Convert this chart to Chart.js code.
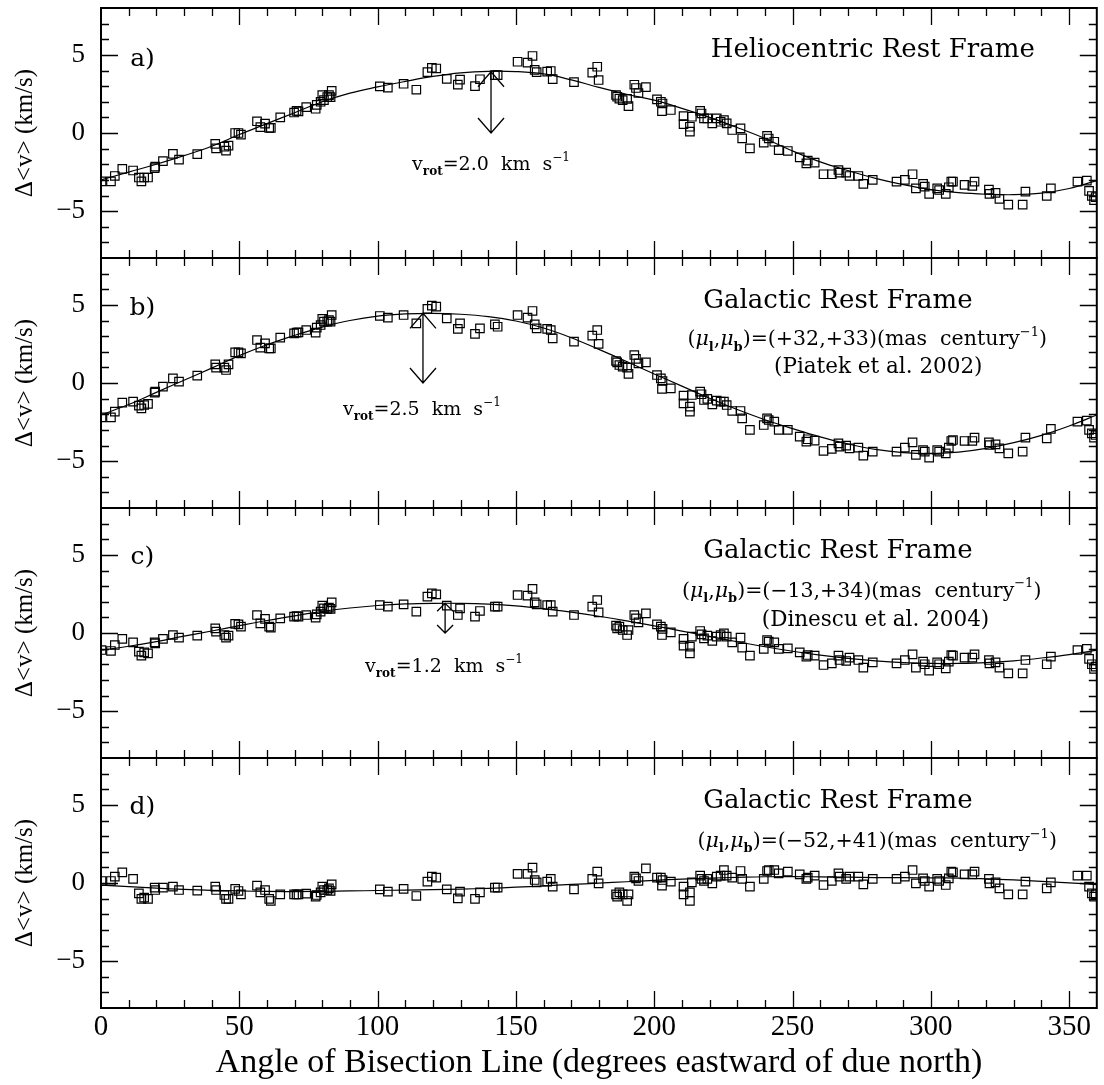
<!DOCTYPE html>
<html>
<head>
<meta charset="utf-8">
<script src="https://cdn.jsdelivr.net/npm/chart.js@4.4.1/dist/chart.umd.min.js"></script>
<style>
  body { margin: 0; background: #fff; }
  #wrap { position: relative; width: 1104px; height: 1085px; overflow: hidden; }
  #wrap canvas { position: absolute; left: 0; }
</style>
</head>
<body>
<div id="wrap">
  <canvas id="panel-a"></canvas>
  <canvas id="panel-b"></canvas>
  <canvas id="panel-c"></canvas>
  <canvas id="panel-d"></canvas>
</div>
<script>
// angle of the bisection line for every point (same for all four panels)
const ANGLE = [
  0.2, 3.6, 5, 7.7, 11.6, 13.7, 14.6, 15.6, 17, 19.4,
  19.6, 22.4, 26, 28.2, 34.8, 41.3, 41.6, 44.6, 45.2, 46.1,
  48.5, 49.7, 50.6, 56.4, 57.6, 59.3, 60.8, 61.4, 64.8, 69.8,
  70.7, 71.4, 74.2, 77.6, 78, 79.4, 80, 80.6, 81.8, 82.4,
  83, 83.4, 100.8, 103.7, 109.4, 114, 118, 119.6, 121.2, 125,
  129, 129.8, 135.2, 137, 142.4, 143.4, 150.6, 154.2, 156, 156.8,
  157.5, 161.3, 162.6, 163.3, 171, 177.6, 179.4, 179.9, 186.2, 186.6,
  187.4, 188.6, 190.2, 190.7, 192.8, 193.4, 194.3, 197, 201, 202.4,
  203, 202.8, 206, 210.6, 210.6, 212.9, 212.9, 213.6, 216.6, 217.1,
  218, 219.2, 221, 222.6, 224, 225.2, 226.2, 228.2, 231.2, 231.8,
  234.6, 239.6, 240.8, 241.4, 243.4, 245, 248.3, 252.6, 255, 255.5,
  258, 261.2, 264.2, 266.6, 267, 269.4, 270.6, 273.8, 275.6, 279,
  287.6, 290.6, 293.4, 294.6, 297.2, 297.8, 299.4, 302.3, 303, 305.4,
  306.5, 307.4, 308, 312.2, 315, 315.8, 321, 321.2, 323.4, 324.8,
  328, 333.2, 334.2, 341.9, 343.4, 353, 356.4, 357.2, 358.2, 359, 359.6
];

// a) heliocentric rest frame
const DV_HELIO = [
  -3.1, -3.1, -2.75, -2.3, -2.4, -2.85, -3.1, -2.85, -2.85, -2.25,
  -2.15, -1.8, -1.34, -1.7, -1.35, -0.7, -0.98, -0.88, -1.13, -0.81,
  0.0, 0.0, -0.1, 0.75, 0.38, 0.6, 0.33, 0.33, 1.0, 1.31,
  1.42, 1.38, 1.66, 1.55, 1.8, 2.0, 2.42, 2.1, 2.3, 2.42,
  2.3, 2.7, 2.98, 2.9, 3.15, 2.77, 3.9, 4.17, 4.13, 3.46,
  3.1, 3.42, 3.0, 3.44, 3.7, 3.7, 4.56, 4.5, 4.93, 4.04,
  3.9, 3.93, 3.97, 3.45, 3.26, 3.86, 4.24, 3.39, 2.43, 2.32,
  2.2, 2.1, 2.18, 1.72, 3.09, 2.88, 2.56, 2.94, 2.15, 2.0,
  1.89, 1.4, 1.47, 1.08, 0.57, 0.4, 0.09, 1.04, 1.42, 1.25,
  0.94, 0.94, 0.62, 0.94, 0.72, 0.83, 0.62, 0.19, 0.3, -0.34,
  -0.98, -0.62, -0.18, -0.35, -0.56, -1.1, -1.15, -1.56, -1.94, -1.77,
  -1.9, -2.64, -2.64, -2.37, -2.54, -2.54, -2.75, -2.75, -3.26, -3.0,
  -3.11, -3.0, -2.64, -3.54, -3.26, -3.43, -3.9, -3.54, -3.65, -3.9,
  -3.47, -3.11, -3.11, -3.32, -3.39, -3.11, -3.62, -3.9, -3.83, -4.22,
  -4.58, -4.58, -3.75, -4.03, -3.54, -3.11, -3.05, -3.7, -4.03, -4.3, -4.1
];

// b) galactic rest frame, Piatek et al. 2002 proper motion
const DV_PIATEK = [
  -2.2, -2.2, -1.83, -1.26, -1.19, -1.45, -1.62, -1.41, -1.34, -0.62,
  -0.55, -0.23, 0.3, 0.09, 0.47, 1.19, 0.98, 0.98, 0.83, 1.19,
  1.96, 1.96, 1.9, 2.75, 2.26, 2.54, 2.22, 2.22, 2.9, 3.18,
  3.22, 3.24, 3.39, 3.22, 3.54, 3.71, 4.1, 3.93, 3.93, 4.03,
  3.93, 4.35, 4.29, 4.18, 4.35, 3.82, 4.74, 4.95, 4.89, 4.14,
  3.46, 3.82, 3.14, 3.5, 3.75, 3.6, 4.35, 4.18, 4.61, 3.75,
  3.5, 3.46, 3.39, 2.86, 2.65, 3.03, 3.39, 2.5, 1.41, 1.32,
  1.15, 1.05, 0.98, 0.58, 1.79, 1.54, 1.26, 1.32, 0.51, 0.3,
  0.13, -0.38, -0.34, -0.81, -1.3, -1.51, -1.83, -0.77, -0.55, -0.72,
  -1.09, -1.02, -1.37, -1.13, -1.19, -1.19, -1.41, -1.79, -1.79, -2.26,
  -3.0, -2.69, -2.26, -2.37, -2.47, -3.0, -3.0, -3.43, -3.75, -3.6,
  -3.69, -4.35, -4.22, -3.86, -4.07, -4.01, -4.18, -4.14, -4.65, -4.39,
  -4.39, -4.14, -3.8, -4.6, -4.29, -4.39, -4.78, -4.29, -4.39, -4.5,
  -4.14, -3.71, -3.65, -3.71, -3.71, -3.5, -3.8, -3.97, -3.93, -4.18,
  -4.5, -4.39, -3.5, -3.54, -2.94, -2.47, -2.41, -3.0, -3.22, -3.5, -3.33
];

// c) galactic rest frame, Dinescu et al. 2004 proper motion
const DV_DINESCU = [
  -1.09, -1.15, -0.77, -0.38, -0.6, -1.19, -1.45, -1.24, -1.3, -0.6,
  -0.66, -0.38, -0.13, -0.3, -0.17, 0.3, 0.09, -0.13, -0.3, -0.17,
  0.58, 0.55, 0.41, 1.15, 0.62, 0.9, 0.41, 0.34, 0.94, 1.05,
  1.09, 1.05, 1.15, 0.98, 1.19, 1.37, 1.75, 1.58, 1.54, 1.62,
  1.54, 1.96, 1.79, 1.69, 1.83, 1.37, 2.33, 2.54, 2.47, 1.75,
  1.15, 1.58, 1.05, 1.41, 1.69, 1.69, 2.43, 2.39, 2.82, 1.96,
  1.83, 1.79, 1.79, 1.37, 1.15, 1.69, 2.11, 1.32, 0.47, 0.3,
  0.41, 0.19, -0.13, 0.19, 1.15, 0.94, 0.68, 1.26, 0.55, 0.41,
  0.26, -0.13, 0.04, -0.38, -0.81, -0.87, -1.3, -0.23, 0.13, -0.09,
  -0.34, -0.17, -0.51, -0.23, -0.13, -0.02, -0.23, -0.6, -0.3, -0.94,
  -1.45, -1.02, -0.45, -0.55, -0.6, -1.02, -0.98, -1.24, -1.51, -1.41,
  -1.45, -2.05, -1.94, -1.45, -1.73, -1.79, -1.58, -1.73, -2.22, -1.88,
  -1.94, -1.73, -1.37, -2.22, -1.83, -2.0, -2.41, -1.88, -2.0, -2.26,
  -1.83, -1.41, -1.45, -1.58, -1.58, -1.37, -1.73, -1.94, -1.88, -2.22,
  -2.58, -2.58, -1.73, -2.0, -1.51, -1.09, -1.02, -1.66, -2.0, -2.3, -2.15
];

// d) galactic rest frame, (-52,+41) proper motion
const DV_PM52 = [
  0.13, 0.13, 0.41, 0.68, 0.26, -0.66, -1.02, -0.94, -1.02, -0.3,
  -0.45, -0.3, -0.23, -0.45, -0.49, -0.23, -0.45, -0.77, -1.02, -1.02,
  -0.38, -0.51, -0.73, -0.17, -0.6, -0.45, -1.02, -1.15, -0.73, -0.73,
  -0.73, -0.73, -0.68, -0.87, -0.77, -0.6, -0.23, -0.45, -0.45, -0.34,
  -0.51, -0.09, -0.41, -0.55, -0.38, -0.83, 0.09, 0.41, 0.34, -0.41,
  -0.98, -0.55, -1.02, -0.6, -0.3, -0.3, 0.58, 0.58, 0.98, 0.19,
  0.04, 0.09, 0.26, -0.23, -0.41, 0.26, 0.73, -0.02, -0.73, -0.87,
  -0.6, -0.73, -1.15, -0.73, 0.41, 0.3, 0.13, 0.94, 0.34, 0.34,
  0.19, -0.17, 0.09, -0.23, -0.73, -0.6, -1.15, 0.04, 0.47, 0.26,
  0.13, 0.26, -0.02, 0.41, 0.47, 0.83, 0.47, 0.34, 0.77, 0.26,
  -0.23, 0.26, 0.77, 0.83, 0.83, 0.62, 0.73, 0.55, 0.26, 0.34,
  0.47, -0.13, 0.13, 0.62, 0.41, 0.26, 0.41, 0.41, -0.09, 0.26,
  0.26, 0.41, 0.83, -0.02, 0.3, 0.13, -0.23, 0.26, 0.13, -0.13,
  0.3, 0.73, 0.68, 0.55, 0.55, 0.73, 0.26, -0.02, 0.04, -0.34,
  -0.73, -0.73, 0.09, -0.34, 0.04, 0.47, 0.47, -0.23, -0.66, -0.87, -0.73
];

// fitted curves, read every 10 degrees
const FIT_ANGLE = [0, 10, 20, 30, 40, 50, 60, 70, 80, 90, 100, 110, 120, 130, 140, 150, 160, 170, 180,
  190, 200, 210, 220, 230, 240, 250, 260, 270, 280, 290, 300, 310, 320, 330, 340, 350, 360];
const FIT_HELIO = [-3.0, -2.5, -2.0, -1.45, -0.85, -0.1, 0.6, 1.3, 2.0, 2.55, 2.95, 3.3, 3.62, 3.85, 3.95, 3.93, 3.78, 3.4, 2.92,
  2.48, 2.1, 1.58, 1.0, 0.35, -0.35, -1.15, -1.85, -2.4, -2.9, -3.3, -3.62, -3.82, -3.92, -3.95, -3.85, -3.55, -3.05];
const FIT_PIATEK = [-2.05, -1.38, -0.6, 0.18, 0.95, 1.75, 2.45, 3.05, 3.58, 4.0, 4.28, 4.42, 4.46, 4.4, 4.25, 3.97, 3.52, 2.9, 2.15,
  1.38, 0.58, -0.2, -0.98, -1.7, -2.35, -2.92, -3.45, -3.9, -4.25, -4.45, -4.52, -4.42, -4.18, -3.82, -3.35, -2.75, -2.05];
const FIT_DINESCU = [-1.1, -0.85, -0.55, -0.2, 0.13, 0.47, 0.8, 1.1, 1.38, 1.6, 1.76, 1.86, 1.9, 1.9, 1.85, 1.74, 1.56, 1.33, 1.07,
  0.78, 0.46, 0.12, -0.22, -0.56, -0.88, -1.17, -1.42, -1.63, -1.79, -1.9, -1.95, -1.95, -1.9, -1.78, -1.6, -1.38, -1.1];
const FIT_PM52 = [-0.13, -0.23, -0.33, -0.41, -0.47, -0.51, -0.54, -0.55, -0.53, -0.51, -0.48, -0.45, -0.42, -0.39, -0.34, -0.27, -0.18, -0.09, -0.01,
  0.08, 0.17, 0.25, 0.31, 0.36, 0.4, 0.41, 0.39, 0.37, 0.35, 0.34, 0.33, 0.31, 0.27, 0.2, 0.11, 0.01, -0.1];

// rotation arrows (panels a-c): angle, top and base of the arrow
const ARROW_ANGLE = [141, 116.4, 124.4];
const ARROW_TOP = [3.92, 4.46, 1.9];
const ARROW_BASE = [0, 0, 0];
const VROT = ['2.0', '2.5', '1.2'];

const X_TICKS = [0, 50, 100, 150, 200, 250, 300, 350];
const Y_TICKS = [-5, 0, 5];

// layout
const PAGE_W = 1104, PAGE_H = 1085;
const PANEL_TOP = 8, PANEL_H = 250, PAD = 8;
const AXIS_W = 101, X_AXIS_H = 77;
const SERIF = '"DejaVu Serif", serif';
const AXIS_FONT = '"Liberation Serif", "Times New Roman", serif';

const vrotParts = v => [{ t: 'v' }, { t: 'rot', sub: true, bold: true }, { t: '=' + v + '  km  s' }, { t: '\u22121', sup: true }];
const muParts = txt => [{ t: '(' }, { t: '\u03bc', italic: true }, { t: 'l', sub: true, bold: true }, { t: ',' },
  { t: '\u03bc', italic: true }, { t: 'b', sub: true, bold: true }, { t: ')=' + txt + '(mas  century' },
  { t: '\u22121', sup: true }, { t: ')' }];

const PANELS = [
  { id: 'panel-a', pts: DV_HELIO, fit: FIT_HELIO, arrow: 0, head: [13, 15],
    labels: [
      { x: 15, y: 4.3, size: 25, parts: [{ t: 'a)' }] },
      { x: 279, y: 4.88, size: 26, parts: [{ t: 'Heliocentric Rest Frame' }] },
      { x: 141, y: -2.37, size: 19, parts: vrotParts(VROT[0]) }
    ] },
  { id: 'panel-b', pts: DV_PIATEK, fit: FIT_PIATEK, arrow: 1, head: [13, 15],
    labels: [
      { x: 15, y: 4.35, size: 25, parts: [{ t: 'b)' }] },
      { x: 266.4, y: 4.78, size: 26, parts: [{ t: 'Galactic Rest Frame' }] },
      { x: 277, y: 2.43, size: 20.5, parts: muParts('(+32,+33)') },
      { x: 281, y: 0.62, size: 21.5, parts: [{ t: '(Piatek et al. 2002)' }] },
      { x: 116, y: -2.05, size: 19, parts: vrotParts(VROT[1]) }
    ] },
  { id: 'panel-c', pts: DV_DINESCU, fit: FIT_DINESCU, arrow: 2, head: [8, 8],
    labels: [
      { x: 15, y: 4.4, size: 25, parts: [{ t: 'c)' }] },
      { x: 266.4, y: 4.78, size: 26, parts: [{ t: 'Galactic Rest Frame' }] },
      { x: 275, y: 2.33, size: 20.5, parts: muParts('(\u221213,+34)') },
      { x: 280, y: 0.47, size: 21.5, parts: [{ t: '(Dinescu et al. 2004)' }] },
      { x: 124, y: -2.47, size: 19, parts: vrotParts(VROT[2]) }
    ] },
  { id: 'panel-d', pts: DV_PM52, fit: FIT_PM52, arrow: -1,
    labels: [
      { x: 15, y: 4.4, size: 25, parts: [{ t: 'd)' }] },
      { x: 266.4, y: 4.78, size: 26, parts: [{ t: 'Galactic Rest Frame' }] },
      { x: 280.6, y: 2.32, size: 20.5, parts: muParts('(\u221252,+41)') }
    ] }
];

// text with sub/superscripts, centred on cx, sitting on baseline by
function drawRich(ctx, parts, cx, by, size) {
  const setFont = p => {
    const s = (p.sub || p.sup) ? Math.round(size * 0.62) : size;
    ctx.font = (p.italic ? 'italic ' : '') + (p.bold ? 'bold ' : '') + s + 'px ' + SERIF;
  };
  const widths = parts.map(p => { setFont(p); return ctx.measureText(p.t).width; });
  let x = cx - widths.reduce((a, b) => a + b, 0) / 2;
  ctx.textAlign = 'left';
  ctx.textBaseline = 'alphabetic';
  parts.forEach((p, i) => {
    setFont(p);
    const dy = p.sub ? size * 0.28 : p.sup ? -size * 0.45 : 0;
    ctx.fillText(p.t, x, by + dy);
    x += widths[i];
  });
}

function line(ctx, x1, y1, x2, y2) {
  ctx.moveTo(x1, y1);
  ctx.lineTo(x2, y2);
}

function makeDecor(panel) {
  return {
    id: 'decor',
    afterDatasetsDraw(chart) {
      const ctx = chart.ctx;
      const xs = chart.scales.x, ys = chart.scales.y;
      const { left, right, top, bottom } = chart.chartArea;
      ctx.save();
      ctx.strokeStyle = '#000';
      ctx.fillStyle = '#000';

      // inward ticks on all four sides
      ctx.lineWidth = 1.3;
      ctx.beginPath();
      for (let v = 10; v < 360; v += 10) {
        const px = Math.round(xs.getPixelForValue(v)) + 0.5;
        const len = v % 50 === 0 ? 17 : 8;
        line(ctx, px, bottom, px, bottom - len);
        line(ctx, px, top, px, top + len);
      }
      for (let v = -7; v <= 7; v++) {
        const py = Math.round(ys.getPixelForValue(v)) + 0.5;
        const len = v % 5 === 0 ? 17 : 8;
        line(ctx, left, py, left + len, py);
        line(ctx, right, py, right - len, py);
      }
      ctx.stroke();

      // frame
      ctx.lineWidth = 2;
      ctx.strokeRect(left, top, right - left, bottom - top);

      // double-headed rotation arrow
      if (panel.arrow >= 0) {
        const k = panel.arrow;
        const px = xs.getPixelForValue(ARROW_ANGLE[k]);
        const pt = ys.getPixelForValue(ARROW_TOP[k]);
        const pb = ys.getPixelForValue(ARROW_BASE[k]);
        const [hw, hh] = panel.head;
        ctx.lineWidth = 1.3;
        ctx.beginPath();
        line(ctx, px, pt, px, pb);
        ctx.moveTo(px - hw, pb - hh); ctx.lineTo(px, pb); ctx.lineTo(px + hw, pb - hh);
        ctx.moveTo(px - hw, pt + hh); ctx.lineTo(px, pt); ctx.lineTo(px + hw, pt + hh);
        ctx.stroke();
      }

      // annotations
      panel.labels.forEach(l => {
        drawRich(ctx, l.parts, xs.getPixelForValue(l.x), ys.getPixelForValue(l.y), l.size);
      });
      ctx.restore();
    }
  };
}

// chart area must be exactly the panel box: drop the label overhang padding
const noOverhang = s => {
  s.paddingTop = 0; s.paddingBottom = 0; s.paddingLeft = 0; s.paddingRight = 0;
};

PANELS.forEach((p, i) => {
  const last = i === PANELS.length - 1;
  const canvas = document.getElementById(p.id);
  const top = PANEL_TOP + PANEL_H * i - PAD;
  canvas.width = PAGE_W;
  canvas.height = last ? PAGE_H - top : PANEL_H + 2 * PAD;
  canvas.style.top = top + 'px';

  new Chart(canvas, {
    type: 'scatter',
    data: {
      datasets: [
        {
          data: ANGLE.map((x, k) => ({ x, y: p.pts[k] })),
          pointStyle: 'rect',
          pointRadius: 6,
          borderWidth: 1.2,
          borderColor: '#000',
          backgroundColor: 'rgba(0,0,0,0)',
          clip: 0
        },
        {
          type: 'line',
          data: FIT_ANGLE.map((x, k) => ({ x, y: p.fit[k] })),
          borderColor: '#000',
          borderWidth: 1.2,
          pointRadius: 0,
          tension: 0.4,
          fill: false
        }
      ]
    },
    options: {
      responsive: false,
      animation: false,
      devicePixelRatio: 1,
      layout: { padding: { top: PAD, bottom: last ? 0 : PAD, left: 0, right: PAGE_W - 1101 } },
      plugins: { legend: { display: false }, tooltip: { enabled: false } },
      scales: {
        x: {
          type: 'linear', min: 0, max: 360,
          display: last,
          afterBuildTicks: s => { s.ticks = X_TICKS.map(value => ({ value })); },
          afterFit: s => { noOverhang(s); if (last) s.height = X_AXIS_H; },
          grid: { display: false, drawTicks: false },
          border: { display: false },
          ticks: { color: '#000', font: { family: AXIS_FONT, size: 29 }, padding: 2, maxRotation: 0, autoSkip: false },
          title: {
            display: true,
            text: 'Angle of Bisection Line (degrees eastward of due north)',
            color: '#000',
            font: { family: AXIS_FONT, size: 34 },
            padding: { top: 0, bottom: 2 }
          }
        },
        y: {
          type: 'linear', min: -8, max: 8,
          afterBuildTicks: s => { s.ticks = Y_TICKS.map(value => ({ value })); },
          afterFit: s => { noOverhang(s); s.width = AXIS_W; },
          grid: { display: false, drawTicks: false },
          border: { display: false },
          ticks: {
            color: '#000', font: { family: AXIS_FONT, size: 27 }, padding: 16,
            callback: v => String(v).replace('-', '\u2212')
          },
          title: {
            display: true,
            text: '\u0394<v> (km/s)',
            color: '#000',
            font: { family: AXIS_FONT, size: 25 },
            padding: { top: 10, bottom: 0 }
          }
        }
      }
    },
    plugins: [makeDecor(p)]
  });
});
</script>
</body>
</html>
